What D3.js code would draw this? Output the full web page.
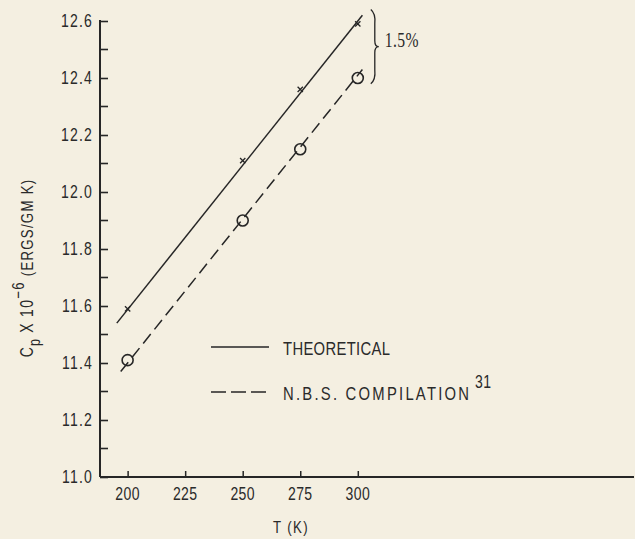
<!DOCTYPE html>
<html>
<head>
<meta charset="utf-8">
<script src="https://cdn.jsdelivr.net/npm/d3@7"></script>
<style>
  body { margin: 0; background: #f4efe1; }
  svg { display: block; }
  text { font-family: "Liberation Sans", Arial, sans-serif; fill: #2a2a2a; }
</style>
</head>
<body>
<svg id="chart"></svg>
<script>
// data
const temps = [200, 250, 275, 300]
const theoretical = [11.59, 12.11, 12.36, 12.59]
const nbs = [11.41, 11.90, 12.15, 12.40]
// fitted lines as drawn (including the short run-out past the end points)
const theoLine = [[195.3, 11.54], [302, 12.62]]
const nbsLine = [[197, 11.37], [302, 12.43]]
const yTicks = [11.0, 11.2, 11.4, 11.6, 11.8, 12.0, 12.2, 12.4, 12.6]
const yMinor = [11.1, 11.3, 11.5, 11.7, 11.9, 12.1, 12.3, 12.5]
const xTicks = [200, 225, 250, 275, 300]

const width = 635
const height = 539
const ink = "#262626"
const squeeze = 0.78   // typewriter-ish narrow lettering

const svg = d3.select("#chart")
  .attr("width", width)
  .attr("height", height)

const x = d3.scaleLinear().domain([188, 420]).range([100, 634])
const y = d3.scaleLinear().domain([11.0, 12.6]).range([477, 21])

// narrow text: place at (px,py), squeeze horizontally
function narrowText(parent, px, py, size, anchor) {
  return parent.append("text")
    .attr("transform", `translate(${px},${py}) scale(${squeeze},1)`)
    .attr("font-size", size)
    .attr("text-anchor", anchor || "start")
}

// y axis
const yAxis = svg.append("g")
  .attr("transform", `translate(${x(188)},0)`)
  .call(d3.axisLeft(y).tickValues(yTicks).tickSize(-8).tickFormat(""))
yAxis.select(".domain").remove()
yAxis.selectAll("line").attr("stroke", ink).attr("stroke-width", 1.6)

yTicks.forEach(v => {
  narrowText(svg, x(188) - 7, y(v) + 6, 18, "end")
    .attr("letter-spacing", 1.5)
    .text(d3.format(".1f")(v))
})

svg.append("g")
  .selectAll("line")
  .data(yMinor)
  .join("line")
  .attr("x1", x(188)).attr("x2", x(188) + 8)
  .attr("y1", d => y(d)).attr("y2", d => y(d))
  .attr("stroke", ink).attr("stroke-width", 1.6)

svg.append("line")
  .attr("x1", x(188)).attr("x2", x(188))
  .attr("y1", y(12.6) - 1).attr("y2", y(11.0))
  .attr("stroke", ink).attr("stroke-width", 2)

// x axis
const xAxis = svg.append("g")
  .attr("transform", `translate(0,${y(11.0)})`)
  .call(d3.axisBottom(x).tickValues(xTicks).tickSize(-6).tickFormat(""))
xAxis.select(".domain").remove()
xAxis.selectAll("line").attr("stroke", ink).attr("stroke-width", 1.5)

xTicks.forEach(v => {
  narrowText(svg, x(v), y(11.0) + 23, 18, "middle")
    .attr("letter-spacing", 0.5)
    .text(v)
})

svg.append("line")
  .attr("x1", x(188)).attr("x2", x(420))
  .attr("y1", y(11.0)).attr("y2", y(11.0))
  .attr("stroke", ink).attr("stroke-width", 1.8)

// axis titles
narrowText(svg, 291, 533, 17, "middle")
  .attr("letter-spacing", 1.8)
  .text("T (K)")

const yTitle = svg.append("text")
  .attr("transform", `translate(33,268) rotate(-90) scale(${squeeze},1)`)
  .attr("text-anchor", "middle")
  .attr("font-size", 18)
  .attr("letter-spacing", 1.6)
yTitle.append("tspan").text("C")
yTitle.append("tspan").attr("font-size", 16).attr("dy", 7).text("p")
yTitle.append("tspan").attr("dy", -7).text(" X 10")
yTitle.append("tspan").attr("font-size", 17).attr("dy", -9).text("−6")
yTitle.append("tspan").attr("font-size", 17).attr("dy", 9).text(" (ERGS/GM  K)")

// lines
const line = d3.line().x(d => x(d[0])).y(d => y(d[1]))

svg.append("path")
  .datum(theoLine)
  .attr("d", line)
  .attr("fill", "none")
  .attr("stroke", ink)
  .attr("stroke-width", 1.5)

svg.append("path")
  .datum(nbsLine)
  .attr("d", line)
  .attr("fill", "none")
  .attr("stroke", ink)
  .attr("stroke-width", 1.5)
  .attr("stroke-dasharray", "12,6")

// markers
svg.append("g")
  .selectAll("path")
  .data(temps.map((t, i) => [t, theoretical[i]]))
  .join("path")
  .attr("d", d3.symbol(d3.symbolX, 20))
  .attr("transform", d => `translate(${x(d[0])},${y(d[1])})`)
  .attr("stroke", ink)
  .attr("stroke-width", 1.3)
  .attr("fill", "none")

svg.append("g")
  .selectAll("circle")
  .data(temps.map((t, i) => [t, nbs[i]]))
  .join("circle")
  .attr("cx", d => x(d[0]))
  .attr("cy", d => y(d[1]))
  .attr("r", 5.5)
  .attr("fill", "none")
  .attr("stroke", ink)
  .attr("stroke-width", 1.6)

// 1.5% bracket
const bx = x(300) + 16
const bTop = y(12.64)
const bBot = y(12.38)
const bMid = (bTop + bBot) / 2
svg.append("path")
  .attr("d", `M${bx - 3},${bTop} Q${bx + 2},${bTop + 4} ${bx + 1},${bTop + 14} L${bx + 1},${bMid - 6} Q${bx + 1},${bMid} ${bx + 5},${bMid} Q${bx + 1},${bMid} ${bx + 1},${bMid + 6} L${bx + 1},${bBot - 14} Q${bx + 2},${bBot - 4} ${bx - 3},${bBot}`)
  .attr("fill", "none")
  .attr("stroke", ink)
  .attr("stroke-width", 1.3)

narrowText(svg, bx + 11, 47, 20)
  .style("font-family", "'Liberation Serif', serif")
  .attr("letter-spacing", 0.5)
  .text("1.5%")

// legend
const legend = [
  { label: "THEORETICAL", dash: null, sup: null, len: 107 },
  { label: "N.B.S. COMPILATION", dash: "15,5", sup: "31", len: 186 }
]
legend.forEach((d, i) => {
  const ly = 347 + i * 45
  svg.append("line")
    .attr("x1", 211).attr("x2", 269)
    .attr("y1", ly).attr("y2", ly)
    .attr("stroke", ink)
    .attr("stroke-width", 1.6)
    .attr("stroke-dasharray", d.dash)
  narrowText(svg, 283, ly + 8, 19)
    .attr("textLength", d.len / squeeze)
    .attr("lengthAdjust", "spacing")
    .text(d.label)
  if (d.sup) {
    narrowText(svg, 475, ly - 4, 18)
      .attr("letter-spacing", 0.5)
      .text(d.sup)
  }
})
</script>
</body>
</html>
